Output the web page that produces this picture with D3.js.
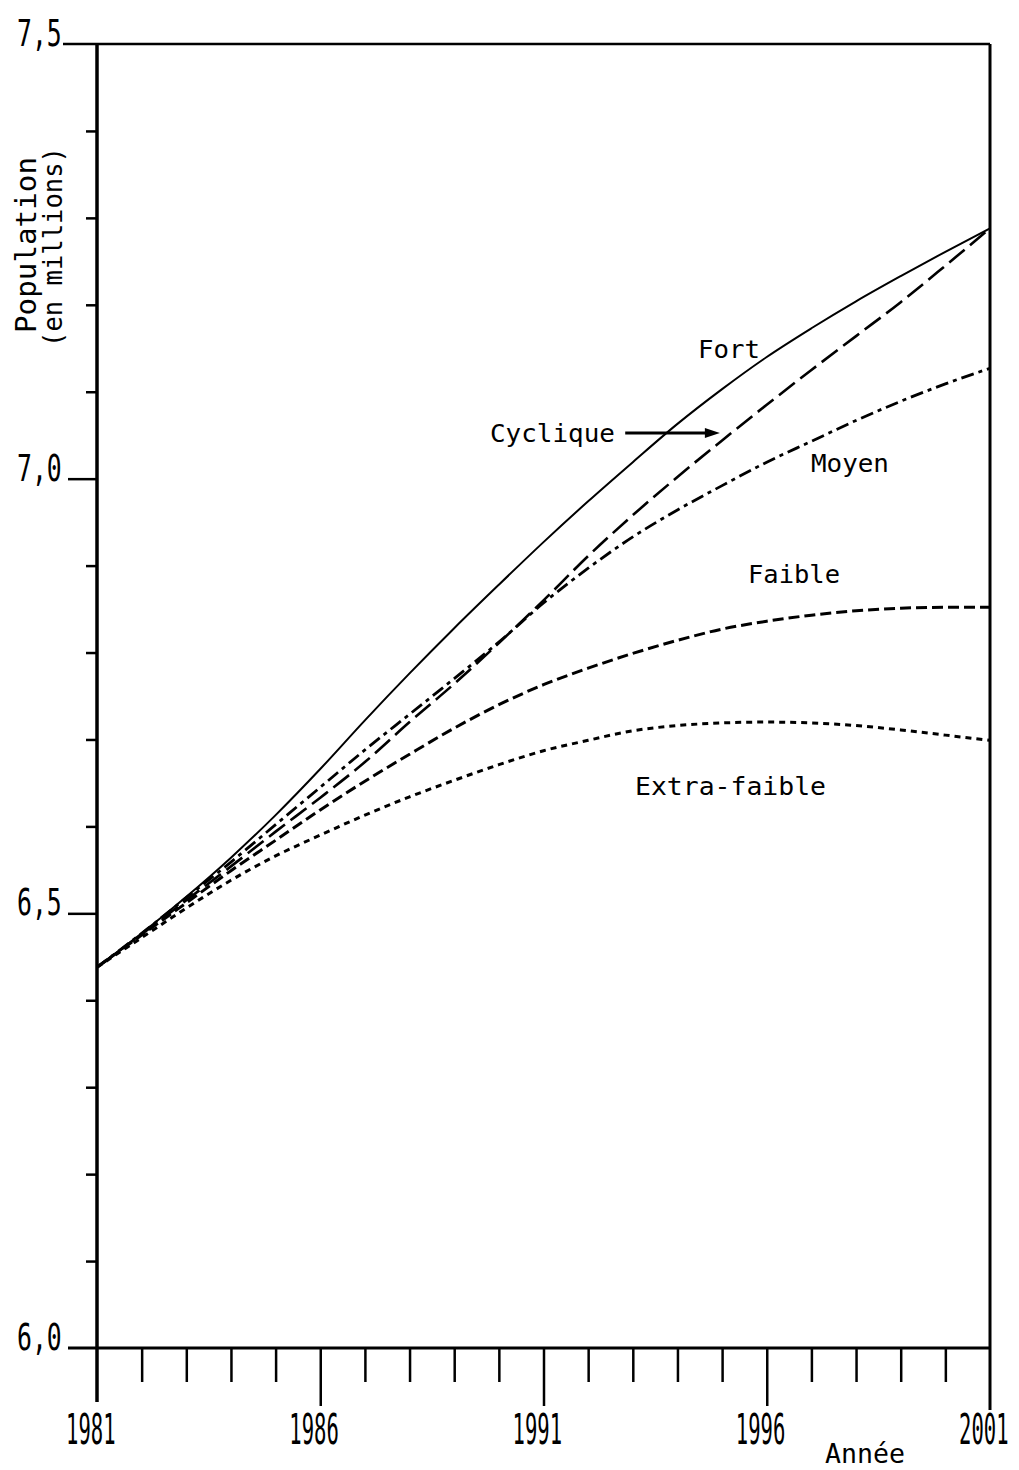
<!DOCTYPE html>
<html>
<head>
<meta charset="utf-8">
<script src="https://cdn.jsdelivr.net/npm/d3@7"></script>
<style>
  html, body { margin: 0; padding: 0; background: #fff; }
  svg text { font-family: "DejaVu Sans Mono", "Liberation Mono", monospace; fill: #000; }
</style>
</head>
<body>
<div id="viz"></div>
<script>
// years 1981..2001, population in millions
const years = d3.range(1981, 2002);
const fort      = [6.438, 6.477, 6.519, 6.564, 6.613, 6.666, 6.722, 6.776, 6.828, 6.878, 6.927, 6.974, 7.019, 7.063, 7.103, 7.140, 7.173, 7.204, 7.233, 7.261, 7.288];
const cyclique  = [6.438, 6.476, 6.515, 6.554, 6.594, 6.633, 6.674, 6.720, 6.764, 6.811, 6.860, 6.911, 6.958, 7.002, 7.044, 7.085, 7.125, 7.164, 7.203, 7.245, 7.288];
const moyen     = [6.438, 6.477, 6.518, 6.559, 6.602, 6.645, 6.688, 6.729, 6.770, 6.812, 6.857, 6.897, 6.933, 6.964, 6.992, 7.019, 7.043, 7.067, 7.089, 7.109, 7.127];
const faible    = [6.438, 6.475, 6.512, 6.549, 6.584, 6.619, 6.652, 6.683, 6.713, 6.740, 6.763, 6.782, 6.799, 6.814, 6.827, 6.836, 6.843, 6.848, 6.851, 6.852, 6.852];
const extra     = [6.438, 6.472, 6.506, 6.538, 6.566, 6.590, 6.613, 6.634, 6.653, 6.671, 6.687, 6.699, 6.710, 6.716, 6.719, 6.720, 6.719, 6.716, 6.711, 6.705, 6.699];

const yMajor = [7.5, 7.0, 6.5, 6.0];
const yMajorLabels = ['7,5', '7,0', '6,5', '6,0'];
const xMajor = [1981, 1986, 1991, 1996, 2001];

const series = [
  { name: 'Fort',         values: fort,     dash: null,        width: 2 },
  { name: 'Cyclique',     values: cyclique, dash: '20,7',      width: 2.6 },
  { name: 'Moyen',        values: moyen,    dash: '13,5,4,5',  width: 2.8 },
  { name: 'Faible',       values: faible,   dash: '11,5',      width: 3 },
  { name: 'Extra-faible', values: extra,    dash: '6,5',       width: 3 },
];

// label placement (year, value)
const labels = [
  { text: 'Fort',         yr: 1994.46, v: 7.139, len: 62 },
  { text: 'Cyclique',     yr: 1989.8,  v: 7.042, len: 125 },
  { text: 'Moyen',        yr: 1996.99, v: 7.008, len: 78 },
  { text: 'Faible',       yr: 1995.58, v: 6.880, len: 92 },
  { text: 'Extra-faible', yr: 1993.05, v: 6.636, len: 191 },
];

const width = 1019;
const height = 1470;
const margin = { top: 44, right: 29, bottom: 122, left: 97 };

const svg = d3.select('#viz').append('svg')
  .attr('width', width)
  .attr('height', height);

const x = d3.scaleLinear().domain([1981, 2001]).range([margin.left, width - margin.right]);
const y = d3.scaleLinear().domain([6.0, 7.5]).range([height - margin.bottom, margin.top]);

// frame
const frame = svg.append('g').attr('stroke', '#000').attr('fill', 'none');
frame.append('line') // top
  .attr('x1', 63).attr('x2', x(2001)).attr('y1', y(7.5)).attr('y2', y(7.5)).attr('stroke-width', 2.5);
frame.append('line') // left axis, runs down past the base
  .attr('x1', x(1981)).attr('x2', x(1981)).attr('y1', y(7.5)).attr('y2', y(6.0) + 54).attr('stroke-width', 3.5);
frame.append('line') // right
  .attr('x1', x(2001)).attr('x2', x(2001)).attr('y1', y(7.5)).attr('y2', y(6.0) + 62).attr('stroke-width', 3);
frame.append('line') // bottom
  .attr('x1', 68).attr('x2', x(2001)).attr('y1', y(6.0)).attr('y2', y(6.0)).attr('stroke-width', 3);

// y ticks
const minorY = d3.range(6.1, 7.45, 0.1).filter(v => Math.abs(v - 6.5) > 0.01 && Math.abs(v - 7.0) > 0.01);
const yMinorAxis = svg.append('g')
  .attr('transform', `translate(${x(1981)},0)`)
  .call(d3.axisLeft(y).tickValues(minorY).tickSize(11).tickFormat(''));
const yMajorAxis = svg.append('g')
  .attr('transform', `translate(${x(1981)},0)`)
  .call(d3.axisLeft(y).tickValues([7.0, 6.5]).tickSize(29).tickFormat(''));
[yMinorAxis, yMajorAxis].forEach(g => {
  g.select('.domain').remove();
  g.selectAll('line').attr('stroke', '#000').attr('stroke-width', 2.5);
});

svg.append('g').selectAll('text')
  .data(yMajor)
  .join('text')
  .attr('transform', d => `translate(17,${y(d) + 2}) scale(0.67,1)`)
  .attr('font-size', 37)
  .text((d, i) => yMajorLabels[i]);

// x ticks
const minorX = years.filter(d => !xMajor.includes(d));
const xMinorAxis = svg.append('g')
  .attr('transform', `translate(0,${y(6.0)})`)
  .call(d3.axisBottom(x).tickValues(minorX).tickSize(34).tickFormat(''));
const xMajorAxis = svg.append('g')
  .attr('transform', `translate(0,${y(6.0)})`)
  .call(d3.axisBottom(x).tickValues([1986, 1991, 1996]).tickSize(58).tickFormat(''));
[xMinorAxis, xMajorAxis].forEach(g => {
  g.select('.domain').remove();
  g.selectAll('line').attr('stroke', '#000').attr('stroke-width', 2.5);
});

svg.append('g').selectAll('text')
  .data(xMajor)
  .join('text')
  .attr('transform', d => `translate(${x(d) - 31},${y(6.0) + 96}) scale(0.49,1)`)
  .attr('font-size', 42)
  .text(d => d);

svg.append('text')
  .attr('x', 825).attr('y', 1463)
  .attr('font-size', 27)
  .attr('textLength', 80)
  .attr('lengthAdjust', 'spacingAndGlyphs')
  .text('Année');

// y title
svg.append('text')
  .attr('transform', 'translate(36,333) rotate(-90)')
  .attr('font-size', 29)
  .attr('textLength', 176)
  .attr('lengthAdjust', 'spacingAndGlyphs')
  .text('Population');
svg.append('text')
  .attr('transform', 'translate(62,347) rotate(-90)')
  .attr('font-size', 27)
  .attr('textLength', 200)
  .attr('lengthAdjust', 'spacingAndGlyphs')
  .text('(en millions)');

// curves
const line = d3.line()
  .x((d, i) => x(years[i]))
  .y(d => y(d))
  .curve(d3.curveMonotoneX);

svg.append('g').selectAll('path')
  .data(series)
  .join('path')
  .attr('d', d => line(d.values))
  .attr('fill', 'none')
  .attr('stroke', '#000')
  .attr('stroke-width', d => d.width)
  .attr('stroke-dasharray', d => d.dash);

// series labels
svg.append('g').selectAll('text')
  .data(labels)
  .join('text')
  .attr('x', d => x(d.yr))
  .attr('y', d => y(d.v))
  .attr('font-size', 25)
  .attr('textLength', d => d.len)
  .attr('lengthAdjust', 'spacingAndGlyphs')
  .text(d => d.text);

// arrow from "Cyclique" to its curve
const arrowY = y(7.0525);
const ax1 = x(1992.83), ax2 = x(1994.95);
svg.append('line')
  .attr('x1', ax1).attr('x2', ax2 - 12)
  .attr('y1', arrowY).attr('y2', arrowY)
  .attr('stroke', '#000').attr('stroke-width', 3);
svg.append('path')
  .attr('d', `M${ax2},${arrowY} L${ax2 - 15},${arrowY - 5} L${ax2 - 15},${arrowY + 5} Z`)
  .attr('fill', '#000');
</script>
</body>
</html>
